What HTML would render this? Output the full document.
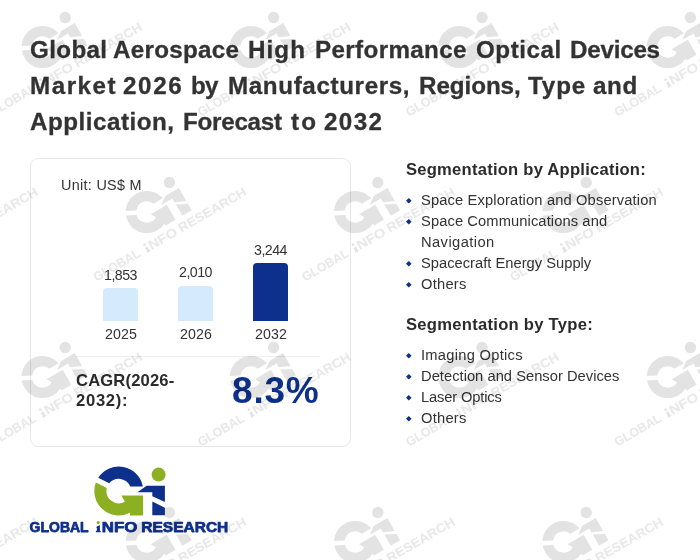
<!DOCTYPE html>
<html><head><meta charset="utf-8">
<style>
html,body{margin:0;padding:0;}
body{width:700px;height:560px;position:relative;overflow:hidden;background:#fff;font-family:"Liberation Sans",sans-serif;color:#333;}
.t{position:absolute;white-space:nowrap;}
.txt{position:absolute;left:0;top:0;width:700px;height:560px;will-change:transform;}
.card{position:absolute;left:30px;top:158px;width:319px;height:287px;border:1px solid #e5e7eb;border-radius:8.5px;}
.bar{position:absolute;width:35px;border-radius:4px 4px 0 0;}
.bul{position:absolute;left:406.2px;width:5.6px;height:5.6px;}
.wm{position:absolute;left:0;top:0;width:700px;height:560px;pointer-events:none;}
</style></head><body>

<div class="card"></div>
<div class="bar" style="left:103px;top:288.2px;height:33.2px;background:#d6eafe;"></div>
<div class="bar" style="left:178px;top:285.5px;height:35.9px;background:#d6eafe;"></div>
<div class="bar" style="left:253px;top:263.4px;height:58px;background:#0e308d;"></div>
<div style="position:absolute;left:76px;top:356px;width:244px;height:1px;background:#eceef0;"></div>
<svg class="bul" style="top:198.0px" viewBox="0 0 10 10"><path d="M5 0L10 5L5 10L0 5Z" fill="#0e308d"/></svg>
<svg class="bul" style="top:219.2px" viewBox="0 0 10 10"><path d="M5 0L10 5L5 10L0 5Z" fill="#0e308d"/></svg>
<svg class="bul" style="top:261.2px" viewBox="0 0 10 10"><path d="M5 0L10 5L5 10L0 5Z" fill="#0e308d"/></svg>
<svg class="bul" style="top:282.0px" viewBox="0 0 10 10"><path d="M5 0L10 5L5 10L0 5Z" fill="#0e308d"/></svg>
<svg class="bul" style="top:353.0px" viewBox="0 0 10 10"><path d="M5 0L10 5L5 10L0 5Z" fill="#0e308d"/></svg>
<svg class="bul" style="top:374.2px" viewBox="0 0 10 10"><path d="M5 0L10 5L5 10L0 5Z" fill="#0e308d"/></svg>
<svg class="bul" style="top:395.0px" viewBox="0 0 10 10"><path d="M5 0L10 5L5 10L0 5Z" fill="#0e308d"/></svg>
<svg class="bul" style="top:416.2px" viewBox="0 0 10 10"><path d="M5 0L10 5L5 10L0 5Z" fill="#0e308d"/></svg>
<div class="txt"><div class="t" style="left:30.00px;top:33.71px;font-size:24.2px;line-height:31px;font-weight:bold;color:#333;letter-spacing:0.360px;-webkit-text-stroke:0.3px #333">Global</div>
<div class="t" style="left:113.00px;top:33.71px;font-size:24.2px;line-height:31px;font-weight:bold;color:#333;letter-spacing:0.275px;-webkit-text-stroke:0.3px #333">Aerospace</div>
<div class="t" style="left:248.00px;top:33.71px;font-size:24.2px;line-height:31px;font-weight:bold;color:#333;letter-spacing:1.067px;-webkit-text-stroke:0.3px #333">High</div>
<div class="t" style="left:315.00px;top:33.71px;font-size:24.2px;line-height:31px;font-weight:bold;color:#333;letter-spacing:0.360px;-webkit-text-stroke:0.3px #333">Performance</div>
<div class="t" style="left:476.00px;top:33.71px;font-size:24.2px;line-height:31px;font-weight:bold;color:#333;letter-spacing:0.533px;-webkit-text-stroke:0.3px #333">Optical</div>
<div class="t" style="left:570.00px;top:33.71px;font-size:24.2px;line-height:31px;font-weight:bold;color:#333;letter-spacing:-0.233px;-webkit-text-stroke:0.3px #333">Devices</div>
<div class="t" style="left:30.00px;top:69.51px;font-size:24.2px;line-height:31px;font-weight:bold;color:#333;letter-spacing:1.520px;-webkit-text-stroke:0.3px #333">Market</div>
<div class="t" style="left:123.00px;top:69.51px;font-size:24.2px;line-height:31px;font-weight:bold;color:#333;letter-spacing:1.667px;-webkit-text-stroke:0.3px #333">2026</div>
<div class="t" style="left:191.00px;top:69.51px;font-size:24.2px;line-height:31px;font-weight:bold;color:#333;letter-spacing:-0.800px;-webkit-text-stroke:0.3px #333">by</div>
<div class="t" style="left:228.00px;top:69.51px;font-size:24.2px;line-height:31px;font-weight:bold;color:#333;letter-spacing:0.631px;-webkit-text-stroke:0.3px #333">Manufacturers,</div>
<div class="t" style="left:419.00px;top:69.51px;font-size:24.2px;line-height:31px;font-weight:bold;color:#333;letter-spacing:-0.057px;-webkit-text-stroke:0.3px #333">Regions,</div>
<div class="t" style="left:528.00px;top:69.51px;font-size:24.2px;line-height:31px;font-weight:bold;color:#333;letter-spacing:0.867px;-webkit-text-stroke:0.3px #333">Type</div>
<div class="t" style="left:593.00px;top:69.51px;font-size:24.2px;line-height:31px;font-weight:bold;color:#333;letter-spacing:0.600px;-webkit-text-stroke:0.3px #333">and</div>
<div class="t" style="left:30.00px;top:105.71px;font-size:24.2px;line-height:31px;font-weight:bold;color:#333;letter-spacing:0.509px;-webkit-text-stroke:0.3px #333">Application,</div>
<div class="t" style="left:183.00px;top:105.71px;font-size:24.2px;line-height:31px;font-weight:bold;color:#333;letter-spacing:-0.257px;-webkit-text-stroke:0.3px #333">Forecast</div>
<div class="t" style="left:291.00px;top:105.71px;font-size:24.2px;line-height:31px;font-weight:bold;color:#333;letter-spacing:2.200px;-webkit-text-stroke:0.3px #333">to</div>
<div class="t" style="left:324.00px;top:105.71px;font-size:24.2px;line-height:31px;font-weight:bold;color:#333;letter-spacing:1.400px;-webkit-text-stroke:0.3px #333">2032</div>
<div class="t" style="left:61.00px;top:176.11px;font-size:14.4px;line-height:19px;font-weight:normal;color:#333;letter-spacing:0.300px">Unit: US$ M</div>
<div class="t" style="left:104.00px;top:266.08px;font-size:14.2px;line-height:18px;font-weight:normal;color:#333;letter-spacing:-0.500px">1,853</div>
<div class="t" style="left:179.00px;top:263.08px;font-size:14.2px;line-height:18px;font-weight:normal;color:#333;letter-spacing:-0.500px">2,010</div>
<div class="t" style="left:254.00px;top:241.18px;font-size:14.2px;line-height:18px;font-weight:normal;color:#333;letter-spacing:-0.500px">3,244</div>
<div class="t" style="left:105.00px;top:325.48px;font-size:14.2px;line-height:18px;font-weight:normal;color:#333;letter-spacing:0.133px">2025</div>
<div class="t" style="left:180.00px;top:325.48px;font-size:14.2px;line-height:18px;font-weight:normal;color:#333;letter-spacing:0.133px">2026</div>
<div class="t" style="left:255.00px;top:325.48px;font-size:14.2px;line-height:18px;font-weight:normal;color:#333;letter-spacing:0.133px">2032</div>
<div class="t" style="left:76.00px;top:369.85px;font-size:16.6px;line-height:22px;font-weight:bold;color:#2b2b2b;letter-spacing:0.156px">CAGR(2026-</div>
<div class="t" style="left:76.00px;top:389.85px;font-size:16.6px;line-height:22px;font-weight:bold;color:#2b2b2b;letter-spacing:0.720px">2032):</div>
<div class="t" style="left:232.00px;top:366.58px;font-size:37px;line-height:48px;font-weight:bold;color:#0e308d;letter-spacing:0.800px">8.3%</div>
<div class="t" style="left:406.00px;top:158.75px;font-size:16.6px;line-height:22px;font-weight:bold;color:#2b2b2b;letter-spacing:0.230px">Segmentation by Application:</div>
<div class="t" style="left:421.00px;top:190.71px;font-size:14.7px;line-height:19px;font-weight:normal;color:#333;letter-spacing:0.144px">Space Exploration and Observation</div>
<div class="t" style="left:421.00px;top:211.91px;font-size:14.7px;line-height:19px;font-weight:normal;color:#333;letter-spacing:0.104px">Space Communications and</div>
<div class="t" style="left:421.00px;top:232.71px;font-size:14.7px;line-height:19px;font-weight:normal;color:#333;letter-spacing:0.422px">Navigation</div>
<div class="t" style="left:421.00px;top:253.91px;font-size:14.7px;line-height:19px;font-weight:normal;color:#333;letter-spacing:0.017px">Spacecraft Energy Supply</div>
<div class="t" style="left:421.00px;top:274.71px;font-size:14.7px;line-height:19px;font-weight:normal;color:#333;letter-spacing:0.240px">Others</div>
<div class="t" style="left:406.00px;top:313.75px;font-size:16.6px;line-height:22px;font-weight:bold;color:#2b2b2b;letter-spacing:0.270px">Segmentation by Type:</div>
<div class="t" style="left:421.00px;top:345.71px;font-size:14.7px;line-height:19px;font-weight:normal;color:#333;letter-spacing:0.277px">Imaging Optics</div>
<div class="t" style="left:421.00px;top:366.91px;font-size:14.7px;line-height:19px;font-weight:normal;color:#333;letter-spacing:0.030px">Detection and Sensor Devices</div>
<div class="t" style="left:421.00px;top:387.71px;font-size:14.7px;line-height:19px;font-weight:normal;color:#333;letter-spacing:-0.145px">Laser Optics</div>
<div class="t" style="left:421.00px;top:408.91px;font-size:14.7px;line-height:19px;font-weight:normal;color:#333;letter-spacing:0.240px">Others</div></div>
<svg style="position:absolute;left:0;top:0" width="700" height="560" viewBox="0 0 700 560">
<g transform="translate(118.8,491.05)">
<path fill="#0e308d" d="M-20.58,-13.19A24.45,24.45 0 0 1 24.04,-4.45L11.47,-4.45A12.3,12.3 0 0 0 -9.59,-7.70Z"/>
<path fill="#8db023" d="M-22.94,-8.47A24.45,24.45 0 0 0 11.2,21.73L11.2,24.45L24.3,24.45L24.3,4.35L2.6,4.35L6.1,10.68A12.3,12.3 0 0 1 -11.94,-2.97Z"/>
<path fill="#0e308d" d="M18.6,1.25L27.8,-5.35L46.1,-5.35L46.1,10.95L33.5,5.25L33.5,1.25Z"/>
<path fill="#0e308d" d="M33.5,10.35L46.1,16.65L46.1,24.3L33.5,24.3Z"/>
<circle fill="#8db023" cx="39.8" cy="-16.45" r="7"/>
<g>
<text x="-89.2" y="40.8" textLength="59.0" lengthAdjust="spacingAndGlyphs" fill="#0e308d" fill-opacity="1" stroke-opacity="1" style="font-family:'Liberation Sans',sans-serif;font-weight:bold;font-size:14.8px;stroke:#0e308d;stroke-width:0.75px;stroke-linejoin:round">GLOBAL</text>
<text x="-17.0" y="40.8" textLength="35.6" lengthAdjust="spacingAndGlyphs" fill="#0e308d" fill-opacity="1" stroke-opacity="1" style="font-family:'Liberation Sans',sans-serif;font-weight:bold;font-size:14.8px;stroke:#0e308d;stroke-width:0.75px;stroke-linejoin:round">NFO</text>
<text x="22.5" y="40.8" textLength="87.0" lengthAdjust="spacingAndGlyphs" fill="#0e308d" fill-opacity="1" stroke-opacity="1" style="font-family:'Liberation Sans',sans-serif;font-weight:bold;font-size:14.8px;stroke:#0e308d;stroke-width:0.75px;stroke-linejoin:round">RESEARCH</text>
<path fill="#0e308d" d="M-22.3,35.6L-19.2,34.2L-18.9,34.2L-18.9,39.6L-18.1,39.6L-18.1,41.2L-22.9,41.2L-22.9,39.6L-21.9,39.6L-21.9,36.9L-22.3,37Z"/>
<circle fill="#8db023" cx="-20.6" cy="31.5" r="1.6"/>
</g>
</g>
</svg>
<svg class="wm" width="700" height="560" viewBox="0 0 700 560" style="opacity:0.108">
<g transform="translate(-61.6,212.0) rotate(-30) scale(0.863)">
<path fill="#000" d="M-20.58,-13.19A24.45,24.45 0 0 1 24.04,-4.45L11.47,-4.45A12.3,12.3 0 0 0 -9.59,-7.70Z"/>
<path fill="#000" d="M-22.94,-8.47A24.45,24.45 0 0 0 11.2,21.73L11.2,24.45L24.3,24.45L24.3,4.35L2.6,4.35L6.1,10.68A12.3,12.3 0 0 1 -11.94,-2.97Z"/>
<path fill="#000" d="M18.6,1.25L27.8,-5.35L46.1,-5.35L46.1,11.85L33.5,6.15L33.5,1.25Z"/>
<path fill="#000" d="M33.5,9.45L46.1,15.75L46.1,24.3L33.5,24.3Z"/>
<circle fill="#000" cx="39.8" cy="-16.45" r="6.6"/>
<g transform="translate(10,0) scale(1.017,1) translate(-10,0)">
<text x="-89.2" y="40.8" textLength="59.0" lengthAdjust="spacingAndGlyphs" fill="#000" fill-opacity="0.8" stroke-opacity="0.8" style="font-family:'Liberation Sans',sans-serif;font-weight:bold;font-size:14.8px;stroke:#000;stroke-width:0.2px;stroke-linejoin:round">GLOBAL</text>
<text x="-17.0" y="40.8" textLength="35.6" lengthAdjust="spacingAndGlyphs" fill="#000" fill-opacity="0.8" stroke-opacity="0.8" style="font-family:'Liberation Sans',sans-serif;font-weight:bold;font-size:14.8px;stroke:#000;stroke-width:0.2px;stroke-linejoin:round">NFO</text>
<text x="22.5" y="40.8" textLength="87.0" lengthAdjust="spacingAndGlyphs" fill="#000" fill-opacity="0.8" stroke-opacity="0.8" style="font-family:'Liberation Sans',sans-serif;font-weight:bold;font-size:14.8px;stroke:#000;stroke-width:0.2px;stroke-linejoin:round">RESEARCH</text>
<path fill="#000" d="M-22.3,35.6L-19.2,34.2L-18.9,34.2L-18.9,39.6L-18.1,39.6L-18.1,41.2L-22.9,41.2L-22.9,39.6L-21.9,39.6L-21.9,36.9L-22.3,37Z"/>
<circle fill="#000" cx="-20.6" cy="31.5" r="1.6"/>
</g>
</g>
<g transform="translate(42.6,47.0) rotate(-30) scale(0.863)">
<path fill="#000" d="M-20.58,-13.19A24.45,24.45 0 0 1 24.04,-4.45L11.47,-4.45A12.3,12.3 0 0 0 -9.59,-7.70Z"/>
<path fill="#000" d="M-22.94,-8.47A24.45,24.45 0 0 0 11.2,21.73L11.2,24.45L24.3,24.45L24.3,4.35L2.6,4.35L6.1,10.68A12.3,12.3 0 0 1 -11.94,-2.97Z"/>
<path fill="#000" d="M18.6,1.25L27.8,-5.35L46.1,-5.35L46.1,11.85L33.5,6.15L33.5,1.25Z"/>
<path fill="#000" d="M33.5,9.45L46.1,15.75L46.1,24.3L33.5,24.3Z"/>
<circle fill="#000" cx="39.8" cy="-16.45" r="6.6"/>
<g transform="translate(10,0) scale(1.017,1) translate(-10,0)">
<text x="-89.2" y="40.8" textLength="59.0" lengthAdjust="spacingAndGlyphs" fill="#000" fill-opacity="0.8" stroke-opacity="0.8" style="font-family:'Liberation Sans',sans-serif;font-weight:bold;font-size:14.8px;stroke:#000;stroke-width:0.2px;stroke-linejoin:round">GLOBAL</text>
<text x="-17.0" y="40.8" textLength="35.6" lengthAdjust="spacingAndGlyphs" fill="#000" fill-opacity="0.8" stroke-opacity="0.8" style="font-family:'Liberation Sans',sans-serif;font-weight:bold;font-size:14.8px;stroke:#000;stroke-width:0.2px;stroke-linejoin:round">NFO</text>
<text x="22.5" y="40.8" textLength="87.0" lengthAdjust="spacingAndGlyphs" fill="#000" fill-opacity="0.8" stroke-opacity="0.8" style="font-family:'Liberation Sans',sans-serif;font-weight:bold;font-size:14.8px;stroke:#000;stroke-width:0.2px;stroke-linejoin:round">RESEARCH</text>
<path fill="#000" d="M-22.3,35.6L-19.2,34.2L-18.9,34.2L-18.9,39.6L-18.1,39.6L-18.1,41.2L-22.9,41.2L-22.9,39.6L-21.9,39.6L-21.9,36.9L-22.3,37Z"/>
<circle fill="#000" cx="-20.6" cy="31.5" r="1.6"/>
</g>
</g>
<g transform="translate(146.8,212.0) rotate(-30) scale(0.863)">
<path fill="#000" d="M-20.58,-13.19A24.45,24.45 0 0 1 24.04,-4.45L11.47,-4.45A12.3,12.3 0 0 0 -9.59,-7.70Z"/>
<path fill="#000" d="M-22.94,-8.47A24.45,24.45 0 0 0 11.2,21.73L11.2,24.45L24.3,24.45L24.3,4.35L2.6,4.35L6.1,10.68A12.3,12.3 0 0 1 -11.94,-2.97Z"/>
<path fill="#000" d="M18.6,1.25L27.8,-5.35L46.1,-5.35L46.1,11.85L33.5,6.15L33.5,1.25Z"/>
<path fill="#000" d="M33.5,9.45L46.1,15.75L46.1,24.3L33.5,24.3Z"/>
<circle fill="#000" cx="39.8" cy="-16.45" r="6.6"/>
<g transform="translate(10,0) scale(1.017,1) translate(-10,0)">
<text x="-89.2" y="40.8" textLength="59.0" lengthAdjust="spacingAndGlyphs" fill="#000" fill-opacity="0.8" stroke-opacity="0.8" style="font-family:'Liberation Sans',sans-serif;font-weight:bold;font-size:14.8px;stroke:#000;stroke-width:0.2px;stroke-linejoin:round">GLOBAL</text>
<text x="-17.0" y="40.8" textLength="35.6" lengthAdjust="spacingAndGlyphs" fill="#000" fill-opacity="0.8" stroke-opacity="0.8" style="font-family:'Liberation Sans',sans-serif;font-weight:bold;font-size:14.8px;stroke:#000;stroke-width:0.2px;stroke-linejoin:round">NFO</text>
<text x="22.5" y="40.8" textLength="87.0" lengthAdjust="spacingAndGlyphs" fill="#000" fill-opacity="0.8" stroke-opacity="0.8" style="font-family:'Liberation Sans',sans-serif;font-weight:bold;font-size:14.8px;stroke:#000;stroke-width:0.2px;stroke-linejoin:round">RESEARCH</text>
<path fill="#000" d="M-22.3,35.6L-19.2,34.2L-18.9,34.2L-18.9,39.6L-18.1,39.6L-18.1,41.2L-22.9,41.2L-22.9,39.6L-21.9,39.6L-21.9,36.9L-22.3,37Z"/>
<circle fill="#000" cx="-20.6" cy="31.5" r="1.6"/>
</g>
</g>
<g transform="translate(251.0,47.0) rotate(-30) scale(0.863)">
<path fill="#000" d="M-20.58,-13.19A24.45,24.45 0 0 1 24.04,-4.45L11.47,-4.45A12.3,12.3 0 0 0 -9.59,-7.70Z"/>
<path fill="#000" d="M-22.94,-8.47A24.45,24.45 0 0 0 11.2,21.73L11.2,24.45L24.3,24.45L24.3,4.35L2.6,4.35L6.1,10.68A12.3,12.3 0 0 1 -11.94,-2.97Z"/>
<path fill="#000" d="M18.6,1.25L27.8,-5.35L46.1,-5.35L46.1,11.85L33.5,6.15L33.5,1.25Z"/>
<path fill="#000" d="M33.5,9.45L46.1,15.75L46.1,24.3L33.5,24.3Z"/>
<circle fill="#000" cx="39.8" cy="-16.45" r="6.6"/>
<g transform="translate(10,0) scale(1.017,1) translate(-10,0)">
<text x="-89.2" y="40.8" textLength="59.0" lengthAdjust="spacingAndGlyphs" fill="#000" fill-opacity="0.8" stroke-opacity="0.8" style="font-family:'Liberation Sans',sans-serif;font-weight:bold;font-size:14.8px;stroke:#000;stroke-width:0.2px;stroke-linejoin:round">GLOBAL</text>
<text x="-17.0" y="40.8" textLength="35.6" lengthAdjust="spacingAndGlyphs" fill="#000" fill-opacity="0.8" stroke-opacity="0.8" style="font-family:'Liberation Sans',sans-serif;font-weight:bold;font-size:14.8px;stroke:#000;stroke-width:0.2px;stroke-linejoin:round">NFO</text>
<text x="22.5" y="40.8" textLength="87.0" lengthAdjust="spacingAndGlyphs" fill="#000" fill-opacity="0.8" stroke-opacity="0.8" style="font-family:'Liberation Sans',sans-serif;font-weight:bold;font-size:14.8px;stroke:#000;stroke-width:0.2px;stroke-linejoin:round">RESEARCH</text>
<path fill="#000" d="M-22.3,35.6L-19.2,34.2L-18.9,34.2L-18.9,39.6L-18.1,39.6L-18.1,41.2L-22.9,41.2L-22.9,39.6L-21.9,39.6L-21.9,36.9L-22.3,37Z"/>
<circle fill="#000" cx="-20.6" cy="31.5" r="1.6"/>
</g>
</g>
<g transform="translate(355.2,212.0) rotate(-30) scale(0.863)">
<path fill="#000" d="M-20.58,-13.19A24.45,24.45 0 0 1 24.04,-4.45L11.47,-4.45A12.3,12.3 0 0 0 -9.59,-7.70Z"/>
<path fill="#000" d="M-22.94,-8.47A24.45,24.45 0 0 0 11.2,21.73L11.2,24.45L24.3,24.45L24.3,4.35L2.6,4.35L6.1,10.68A12.3,12.3 0 0 1 -11.94,-2.97Z"/>
<path fill="#000" d="M18.6,1.25L27.8,-5.35L46.1,-5.35L46.1,11.85L33.5,6.15L33.5,1.25Z"/>
<path fill="#000" d="M33.5,9.45L46.1,15.75L46.1,24.3L33.5,24.3Z"/>
<circle fill="#000" cx="39.8" cy="-16.45" r="6.6"/>
<g transform="translate(10,0) scale(1.017,1) translate(-10,0)">
<text x="-89.2" y="40.8" textLength="59.0" lengthAdjust="spacingAndGlyphs" fill="#000" fill-opacity="0.8" stroke-opacity="0.8" style="font-family:'Liberation Sans',sans-serif;font-weight:bold;font-size:14.8px;stroke:#000;stroke-width:0.2px;stroke-linejoin:round">GLOBAL</text>
<text x="-17.0" y="40.8" textLength="35.6" lengthAdjust="spacingAndGlyphs" fill="#000" fill-opacity="0.8" stroke-opacity="0.8" style="font-family:'Liberation Sans',sans-serif;font-weight:bold;font-size:14.8px;stroke:#000;stroke-width:0.2px;stroke-linejoin:round">NFO</text>
<text x="22.5" y="40.8" textLength="87.0" lengthAdjust="spacingAndGlyphs" fill="#000" fill-opacity="0.8" stroke-opacity="0.8" style="font-family:'Liberation Sans',sans-serif;font-weight:bold;font-size:14.8px;stroke:#000;stroke-width:0.2px;stroke-linejoin:round">RESEARCH</text>
<path fill="#000" d="M-22.3,35.6L-19.2,34.2L-18.9,34.2L-18.9,39.6L-18.1,39.6L-18.1,41.2L-22.9,41.2L-22.9,39.6L-21.9,39.6L-21.9,36.9L-22.3,37Z"/>
<circle fill="#000" cx="-20.6" cy="31.5" r="1.6"/>
</g>
</g>
<g transform="translate(459.4,47.0) rotate(-30) scale(0.863)">
<path fill="#000" d="M-20.58,-13.19A24.45,24.45 0 0 1 24.04,-4.45L11.47,-4.45A12.3,12.3 0 0 0 -9.59,-7.70Z"/>
<path fill="#000" d="M-22.94,-8.47A24.45,24.45 0 0 0 11.2,21.73L11.2,24.45L24.3,24.45L24.3,4.35L2.6,4.35L6.1,10.68A12.3,12.3 0 0 1 -11.94,-2.97Z"/>
<path fill="#000" d="M18.6,1.25L27.8,-5.35L46.1,-5.35L46.1,11.85L33.5,6.15L33.5,1.25Z"/>
<path fill="#000" d="M33.5,9.45L46.1,15.75L46.1,24.3L33.5,24.3Z"/>
<circle fill="#000" cx="39.8" cy="-16.45" r="6.6"/>
<g transform="translate(10,0) scale(1.017,1) translate(-10,0)">
<text x="-89.2" y="40.8" textLength="59.0" lengthAdjust="spacingAndGlyphs" fill="#000" fill-opacity="0.8" stroke-opacity="0.8" style="font-family:'Liberation Sans',sans-serif;font-weight:bold;font-size:14.8px;stroke:#000;stroke-width:0.2px;stroke-linejoin:round">GLOBAL</text>
<text x="-17.0" y="40.8" textLength="35.6" lengthAdjust="spacingAndGlyphs" fill="#000" fill-opacity="0.8" stroke-opacity="0.8" style="font-family:'Liberation Sans',sans-serif;font-weight:bold;font-size:14.8px;stroke:#000;stroke-width:0.2px;stroke-linejoin:round">NFO</text>
<text x="22.5" y="40.8" textLength="87.0" lengthAdjust="spacingAndGlyphs" fill="#000" fill-opacity="0.8" stroke-opacity="0.8" style="font-family:'Liberation Sans',sans-serif;font-weight:bold;font-size:14.8px;stroke:#000;stroke-width:0.2px;stroke-linejoin:round">RESEARCH</text>
<path fill="#000" d="M-22.3,35.6L-19.2,34.2L-18.9,34.2L-18.9,39.6L-18.1,39.6L-18.1,41.2L-22.9,41.2L-22.9,39.6L-21.9,39.6L-21.9,36.9L-22.3,37Z"/>
<circle fill="#000" cx="-20.6" cy="31.5" r="1.6"/>
</g>
</g>
<g transform="translate(563.6,212.0) rotate(-30) scale(0.863)">
<path fill="#000" d="M-20.58,-13.19A24.45,24.45 0 0 1 24.04,-4.45L11.47,-4.45A12.3,12.3 0 0 0 -9.59,-7.70Z"/>
<path fill="#000" d="M-22.94,-8.47A24.45,24.45 0 0 0 11.2,21.73L11.2,24.45L24.3,24.45L24.3,4.35L2.6,4.35L6.1,10.68A12.3,12.3 0 0 1 -11.94,-2.97Z"/>
<path fill="#000" d="M18.6,1.25L27.8,-5.35L46.1,-5.35L46.1,11.85L33.5,6.15L33.5,1.25Z"/>
<path fill="#000" d="M33.5,9.45L46.1,15.75L46.1,24.3L33.5,24.3Z"/>
<circle fill="#000" cx="39.8" cy="-16.45" r="6.6"/>
<g transform="translate(10,0) scale(1.017,1) translate(-10,0)">
<text x="-89.2" y="40.8" textLength="59.0" lengthAdjust="spacingAndGlyphs" fill="#000" fill-opacity="0.8" stroke-opacity="0.8" style="font-family:'Liberation Sans',sans-serif;font-weight:bold;font-size:14.8px;stroke:#000;stroke-width:0.2px;stroke-linejoin:round">GLOBAL</text>
<text x="-17.0" y="40.8" textLength="35.6" lengthAdjust="spacingAndGlyphs" fill="#000" fill-opacity="0.8" stroke-opacity="0.8" style="font-family:'Liberation Sans',sans-serif;font-weight:bold;font-size:14.8px;stroke:#000;stroke-width:0.2px;stroke-linejoin:round">NFO</text>
<text x="22.5" y="40.8" textLength="87.0" lengthAdjust="spacingAndGlyphs" fill="#000" fill-opacity="0.8" stroke-opacity="0.8" style="font-family:'Liberation Sans',sans-serif;font-weight:bold;font-size:14.8px;stroke:#000;stroke-width:0.2px;stroke-linejoin:round">RESEARCH</text>
<path fill="#000" d="M-22.3,35.6L-19.2,34.2L-18.9,34.2L-18.9,39.6L-18.1,39.6L-18.1,41.2L-22.9,41.2L-22.9,39.6L-21.9,39.6L-21.9,36.9L-22.3,37Z"/>
<circle fill="#000" cx="-20.6" cy="31.5" r="1.6"/>
</g>
</g>
<g transform="translate(667.8,47.0) rotate(-30) scale(0.863)">
<path fill="#000" d="M-20.58,-13.19A24.45,24.45 0 0 1 24.04,-4.45L11.47,-4.45A12.3,12.3 0 0 0 -9.59,-7.70Z"/>
<path fill="#000" d="M-22.94,-8.47A24.45,24.45 0 0 0 11.2,21.73L11.2,24.45L24.3,24.45L24.3,4.35L2.6,4.35L6.1,10.68A12.3,12.3 0 0 1 -11.94,-2.97Z"/>
<path fill="#000" d="M18.6,1.25L27.8,-5.35L46.1,-5.35L46.1,11.85L33.5,6.15L33.5,1.25Z"/>
<path fill="#000" d="M33.5,9.45L46.1,15.75L46.1,24.3L33.5,24.3Z"/>
<circle fill="#000" cx="39.8" cy="-16.45" r="6.6"/>
<g transform="translate(10,0) scale(1.017,1) translate(-10,0)">
<text x="-89.2" y="40.8" textLength="59.0" lengthAdjust="spacingAndGlyphs" fill="#000" fill-opacity="0.8" stroke-opacity="0.8" style="font-family:'Liberation Sans',sans-serif;font-weight:bold;font-size:14.8px;stroke:#000;stroke-width:0.2px;stroke-linejoin:round">GLOBAL</text>
<text x="-17.0" y="40.8" textLength="35.6" lengthAdjust="spacingAndGlyphs" fill="#000" fill-opacity="0.8" stroke-opacity="0.8" style="font-family:'Liberation Sans',sans-serif;font-weight:bold;font-size:14.8px;stroke:#000;stroke-width:0.2px;stroke-linejoin:round">NFO</text>
<text x="22.5" y="40.8" textLength="87.0" lengthAdjust="spacingAndGlyphs" fill="#000" fill-opacity="0.8" stroke-opacity="0.8" style="font-family:'Liberation Sans',sans-serif;font-weight:bold;font-size:14.8px;stroke:#000;stroke-width:0.2px;stroke-linejoin:round">RESEARCH</text>
<path fill="#000" d="M-22.3,35.6L-19.2,34.2L-18.9,34.2L-18.9,39.6L-18.1,39.6L-18.1,41.2L-22.9,41.2L-22.9,39.6L-21.9,39.6L-21.9,36.9L-22.3,37Z"/>
<circle fill="#000" cx="-20.6" cy="31.5" r="1.6"/>
</g>
</g>
<g transform="translate(772.0,212.0) rotate(-30) scale(0.863)">
<path fill="#000" d="M-20.58,-13.19A24.45,24.45 0 0 1 24.04,-4.45L11.47,-4.45A12.3,12.3 0 0 0 -9.59,-7.70Z"/>
<path fill="#000" d="M-22.94,-8.47A24.45,24.45 0 0 0 11.2,21.73L11.2,24.45L24.3,24.45L24.3,4.35L2.6,4.35L6.1,10.68A12.3,12.3 0 0 1 -11.94,-2.97Z"/>
<path fill="#000" d="M18.6,1.25L27.8,-5.35L46.1,-5.35L46.1,11.85L33.5,6.15L33.5,1.25Z"/>
<path fill="#000" d="M33.5,9.45L46.1,15.75L46.1,24.3L33.5,24.3Z"/>
<circle fill="#000" cx="39.8" cy="-16.45" r="6.6"/>
<g transform="translate(10,0) scale(1.017,1) translate(-10,0)">
<text x="-89.2" y="40.8" textLength="59.0" lengthAdjust="spacingAndGlyphs" fill="#000" fill-opacity="0.8" stroke-opacity="0.8" style="font-family:'Liberation Sans',sans-serif;font-weight:bold;font-size:14.8px;stroke:#000;stroke-width:0.2px;stroke-linejoin:round">GLOBAL</text>
<text x="-17.0" y="40.8" textLength="35.6" lengthAdjust="spacingAndGlyphs" fill="#000" fill-opacity="0.8" stroke-opacity="0.8" style="font-family:'Liberation Sans',sans-serif;font-weight:bold;font-size:14.8px;stroke:#000;stroke-width:0.2px;stroke-linejoin:round">NFO</text>
<text x="22.5" y="40.8" textLength="87.0" lengthAdjust="spacingAndGlyphs" fill="#000" fill-opacity="0.8" stroke-opacity="0.8" style="font-family:'Liberation Sans',sans-serif;font-weight:bold;font-size:14.8px;stroke:#000;stroke-width:0.2px;stroke-linejoin:round">RESEARCH</text>
<path fill="#000" d="M-22.3,35.6L-19.2,34.2L-18.9,34.2L-18.9,39.6L-18.1,39.6L-18.1,41.2L-22.9,41.2L-22.9,39.6L-21.9,39.6L-21.9,36.9L-22.3,37Z"/>
<circle fill="#000" cx="-20.6" cy="31.5" r="1.6"/>
</g>
</g>
<g transform="translate(-61.6,542.0) rotate(-30) scale(0.863)">
<path fill="#000" d="M-20.58,-13.19A24.45,24.45 0 0 1 24.04,-4.45L11.47,-4.45A12.3,12.3 0 0 0 -9.59,-7.70Z"/>
<path fill="#000" d="M-22.94,-8.47A24.45,24.45 0 0 0 11.2,21.73L11.2,24.45L24.3,24.45L24.3,4.35L2.6,4.35L6.1,10.68A12.3,12.3 0 0 1 -11.94,-2.97Z"/>
<path fill="#000" d="M18.6,1.25L27.8,-5.35L46.1,-5.35L46.1,11.85L33.5,6.15L33.5,1.25Z"/>
<path fill="#000" d="M33.5,9.45L46.1,15.75L46.1,24.3L33.5,24.3Z"/>
<circle fill="#000" cx="39.8" cy="-16.45" r="6.6"/>
<g transform="translate(10,0) scale(1.017,1) translate(-10,0)">
<text x="-89.2" y="40.8" textLength="59.0" lengthAdjust="spacingAndGlyphs" fill="#000" fill-opacity="0.8" stroke-opacity="0.8" style="font-family:'Liberation Sans',sans-serif;font-weight:bold;font-size:14.8px;stroke:#000;stroke-width:0.2px;stroke-linejoin:round">GLOBAL</text>
<text x="-17.0" y="40.8" textLength="35.6" lengthAdjust="spacingAndGlyphs" fill="#000" fill-opacity="0.8" stroke-opacity="0.8" style="font-family:'Liberation Sans',sans-serif;font-weight:bold;font-size:14.8px;stroke:#000;stroke-width:0.2px;stroke-linejoin:round">NFO</text>
<text x="22.5" y="40.8" textLength="87.0" lengthAdjust="spacingAndGlyphs" fill="#000" fill-opacity="0.8" stroke-opacity="0.8" style="font-family:'Liberation Sans',sans-serif;font-weight:bold;font-size:14.8px;stroke:#000;stroke-width:0.2px;stroke-linejoin:round">RESEARCH</text>
<path fill="#000" d="M-22.3,35.6L-19.2,34.2L-18.9,34.2L-18.9,39.6L-18.1,39.6L-18.1,41.2L-22.9,41.2L-22.9,39.6L-21.9,39.6L-21.9,36.9L-22.3,37Z"/>
<circle fill="#000" cx="-20.6" cy="31.5" r="1.6"/>
</g>
</g>
<g transform="translate(42.6,377.0) rotate(-30) scale(0.863)">
<path fill="#000" d="M-20.58,-13.19A24.45,24.45 0 0 1 24.04,-4.45L11.47,-4.45A12.3,12.3 0 0 0 -9.59,-7.70Z"/>
<path fill="#000" d="M-22.94,-8.47A24.45,24.45 0 0 0 11.2,21.73L11.2,24.45L24.3,24.45L24.3,4.35L2.6,4.35L6.1,10.68A12.3,12.3 0 0 1 -11.94,-2.97Z"/>
<path fill="#000" d="M18.6,1.25L27.8,-5.35L46.1,-5.35L46.1,11.85L33.5,6.15L33.5,1.25Z"/>
<path fill="#000" d="M33.5,9.45L46.1,15.75L46.1,24.3L33.5,24.3Z"/>
<circle fill="#000" cx="39.8" cy="-16.45" r="6.6"/>
<g transform="translate(10,0) scale(1.017,1) translate(-10,0)">
<text x="-89.2" y="40.8" textLength="59.0" lengthAdjust="spacingAndGlyphs" fill="#000" fill-opacity="0.8" stroke-opacity="0.8" style="font-family:'Liberation Sans',sans-serif;font-weight:bold;font-size:14.8px;stroke:#000;stroke-width:0.2px;stroke-linejoin:round">GLOBAL</text>
<text x="-17.0" y="40.8" textLength="35.6" lengthAdjust="spacingAndGlyphs" fill="#000" fill-opacity="0.8" stroke-opacity="0.8" style="font-family:'Liberation Sans',sans-serif;font-weight:bold;font-size:14.8px;stroke:#000;stroke-width:0.2px;stroke-linejoin:round">NFO</text>
<text x="22.5" y="40.8" textLength="87.0" lengthAdjust="spacingAndGlyphs" fill="#000" fill-opacity="0.8" stroke-opacity="0.8" style="font-family:'Liberation Sans',sans-serif;font-weight:bold;font-size:14.8px;stroke:#000;stroke-width:0.2px;stroke-linejoin:round">RESEARCH</text>
<path fill="#000" d="M-22.3,35.6L-19.2,34.2L-18.9,34.2L-18.9,39.6L-18.1,39.6L-18.1,41.2L-22.9,41.2L-22.9,39.6L-21.9,39.6L-21.9,36.9L-22.3,37Z"/>
<circle fill="#000" cx="-20.6" cy="31.5" r="1.6"/>
</g>
</g>
<g transform="translate(146.8,542.0) rotate(-30) scale(0.863)">
<path fill="#000" d="M-20.58,-13.19A24.45,24.45 0 0 1 24.04,-4.45L11.47,-4.45A12.3,12.3 0 0 0 -9.59,-7.70Z"/>
<path fill="#000" d="M-22.94,-8.47A24.45,24.45 0 0 0 11.2,21.73L11.2,24.45L24.3,24.45L24.3,4.35L2.6,4.35L6.1,10.68A12.3,12.3 0 0 1 -11.94,-2.97Z"/>
<path fill="#000" d="M18.6,1.25L27.8,-5.35L46.1,-5.35L46.1,11.85L33.5,6.15L33.5,1.25Z"/>
<path fill="#000" d="M33.5,9.45L46.1,15.75L46.1,24.3L33.5,24.3Z"/>
<circle fill="#000" cx="39.8" cy="-16.45" r="6.6"/>
<g transform="translate(10,0) scale(1.017,1) translate(-10,0)">
<text x="-89.2" y="40.8" textLength="59.0" lengthAdjust="spacingAndGlyphs" fill="#000" fill-opacity="0.8" stroke-opacity="0.8" style="font-family:'Liberation Sans',sans-serif;font-weight:bold;font-size:14.8px;stroke:#000;stroke-width:0.2px;stroke-linejoin:round">GLOBAL</text>
<text x="-17.0" y="40.8" textLength="35.6" lengthAdjust="spacingAndGlyphs" fill="#000" fill-opacity="0.8" stroke-opacity="0.8" style="font-family:'Liberation Sans',sans-serif;font-weight:bold;font-size:14.8px;stroke:#000;stroke-width:0.2px;stroke-linejoin:round">NFO</text>
<text x="22.5" y="40.8" textLength="87.0" lengthAdjust="spacingAndGlyphs" fill="#000" fill-opacity="0.8" stroke-opacity="0.8" style="font-family:'Liberation Sans',sans-serif;font-weight:bold;font-size:14.8px;stroke:#000;stroke-width:0.2px;stroke-linejoin:round">RESEARCH</text>
<path fill="#000" d="M-22.3,35.6L-19.2,34.2L-18.9,34.2L-18.9,39.6L-18.1,39.6L-18.1,41.2L-22.9,41.2L-22.9,39.6L-21.9,39.6L-21.9,36.9L-22.3,37Z"/>
<circle fill="#000" cx="-20.6" cy="31.5" r="1.6"/>
</g>
</g>
<g transform="translate(251.0,377.0) rotate(-30) scale(0.863)">
<path fill="#000" d="M-20.58,-13.19A24.45,24.45 0 0 1 24.04,-4.45L11.47,-4.45A12.3,12.3 0 0 0 -9.59,-7.70Z"/>
<path fill="#000" d="M-22.94,-8.47A24.45,24.45 0 0 0 11.2,21.73L11.2,24.45L24.3,24.45L24.3,4.35L2.6,4.35L6.1,10.68A12.3,12.3 0 0 1 -11.94,-2.97Z"/>
<path fill="#000" d="M18.6,1.25L27.8,-5.35L46.1,-5.35L46.1,11.85L33.5,6.15L33.5,1.25Z"/>
<path fill="#000" d="M33.5,9.45L46.1,15.75L46.1,24.3L33.5,24.3Z"/>
<circle fill="#000" cx="39.8" cy="-16.45" r="6.6"/>
<g transform="translate(10,0) scale(1.017,1) translate(-10,0)">
<text x="-89.2" y="40.8" textLength="59.0" lengthAdjust="spacingAndGlyphs" fill="#000" fill-opacity="0.8" stroke-opacity="0.8" style="font-family:'Liberation Sans',sans-serif;font-weight:bold;font-size:14.8px;stroke:#000;stroke-width:0.2px;stroke-linejoin:round">GLOBAL</text>
<text x="-17.0" y="40.8" textLength="35.6" lengthAdjust="spacingAndGlyphs" fill="#000" fill-opacity="0.8" stroke-opacity="0.8" style="font-family:'Liberation Sans',sans-serif;font-weight:bold;font-size:14.8px;stroke:#000;stroke-width:0.2px;stroke-linejoin:round">NFO</text>
<text x="22.5" y="40.8" textLength="87.0" lengthAdjust="spacingAndGlyphs" fill="#000" fill-opacity="0.8" stroke-opacity="0.8" style="font-family:'Liberation Sans',sans-serif;font-weight:bold;font-size:14.8px;stroke:#000;stroke-width:0.2px;stroke-linejoin:round">RESEARCH</text>
<path fill="#000" d="M-22.3,35.6L-19.2,34.2L-18.9,34.2L-18.9,39.6L-18.1,39.6L-18.1,41.2L-22.9,41.2L-22.9,39.6L-21.9,39.6L-21.9,36.9L-22.3,37Z"/>
<circle fill="#000" cx="-20.6" cy="31.5" r="1.6"/>
</g>
</g>
<g transform="translate(355.2,542.0) rotate(-30) scale(0.863)">
<path fill="#000" d="M-20.58,-13.19A24.45,24.45 0 0 1 24.04,-4.45L11.47,-4.45A12.3,12.3 0 0 0 -9.59,-7.70Z"/>
<path fill="#000" d="M-22.94,-8.47A24.45,24.45 0 0 0 11.2,21.73L11.2,24.45L24.3,24.45L24.3,4.35L2.6,4.35L6.1,10.68A12.3,12.3 0 0 1 -11.94,-2.97Z"/>
<path fill="#000" d="M18.6,1.25L27.8,-5.35L46.1,-5.35L46.1,11.85L33.5,6.15L33.5,1.25Z"/>
<path fill="#000" d="M33.5,9.45L46.1,15.75L46.1,24.3L33.5,24.3Z"/>
<circle fill="#000" cx="39.8" cy="-16.45" r="6.6"/>
<g transform="translate(10,0) scale(1.017,1) translate(-10,0)">
<text x="-89.2" y="40.8" textLength="59.0" lengthAdjust="spacingAndGlyphs" fill="#000" fill-opacity="0.8" stroke-opacity="0.8" style="font-family:'Liberation Sans',sans-serif;font-weight:bold;font-size:14.8px;stroke:#000;stroke-width:0.2px;stroke-linejoin:round">GLOBAL</text>
<text x="-17.0" y="40.8" textLength="35.6" lengthAdjust="spacingAndGlyphs" fill="#000" fill-opacity="0.8" stroke-opacity="0.8" style="font-family:'Liberation Sans',sans-serif;font-weight:bold;font-size:14.8px;stroke:#000;stroke-width:0.2px;stroke-linejoin:round">NFO</text>
<text x="22.5" y="40.8" textLength="87.0" lengthAdjust="spacingAndGlyphs" fill="#000" fill-opacity="0.8" stroke-opacity="0.8" style="font-family:'Liberation Sans',sans-serif;font-weight:bold;font-size:14.8px;stroke:#000;stroke-width:0.2px;stroke-linejoin:round">RESEARCH</text>
<path fill="#000" d="M-22.3,35.6L-19.2,34.2L-18.9,34.2L-18.9,39.6L-18.1,39.6L-18.1,41.2L-22.9,41.2L-22.9,39.6L-21.9,39.6L-21.9,36.9L-22.3,37Z"/>
<circle fill="#000" cx="-20.6" cy="31.5" r="1.6"/>
</g>
</g>
<g transform="translate(459.4,377.0) rotate(-30) scale(0.863)">
<path fill="#000" d="M-20.58,-13.19A24.45,24.45 0 0 1 24.04,-4.45L11.47,-4.45A12.3,12.3 0 0 0 -9.59,-7.70Z"/>
<path fill="#000" d="M-22.94,-8.47A24.45,24.45 0 0 0 11.2,21.73L11.2,24.45L24.3,24.45L24.3,4.35L2.6,4.35L6.1,10.68A12.3,12.3 0 0 1 -11.94,-2.97Z"/>
<path fill="#000" d="M18.6,1.25L27.8,-5.35L46.1,-5.35L46.1,11.85L33.5,6.15L33.5,1.25Z"/>
<path fill="#000" d="M33.5,9.45L46.1,15.75L46.1,24.3L33.5,24.3Z"/>
<circle fill="#000" cx="39.8" cy="-16.45" r="6.6"/>
<g transform="translate(10,0) scale(1.017,1) translate(-10,0)">
<text x="-89.2" y="40.8" textLength="59.0" lengthAdjust="spacingAndGlyphs" fill="#000" fill-opacity="0.8" stroke-opacity="0.8" style="font-family:'Liberation Sans',sans-serif;font-weight:bold;font-size:14.8px;stroke:#000;stroke-width:0.2px;stroke-linejoin:round">GLOBAL</text>
<text x="-17.0" y="40.8" textLength="35.6" lengthAdjust="spacingAndGlyphs" fill="#000" fill-opacity="0.8" stroke-opacity="0.8" style="font-family:'Liberation Sans',sans-serif;font-weight:bold;font-size:14.8px;stroke:#000;stroke-width:0.2px;stroke-linejoin:round">NFO</text>
<text x="22.5" y="40.8" textLength="87.0" lengthAdjust="spacingAndGlyphs" fill="#000" fill-opacity="0.8" stroke-opacity="0.8" style="font-family:'Liberation Sans',sans-serif;font-weight:bold;font-size:14.8px;stroke:#000;stroke-width:0.2px;stroke-linejoin:round">RESEARCH</text>
<path fill="#000" d="M-22.3,35.6L-19.2,34.2L-18.9,34.2L-18.9,39.6L-18.1,39.6L-18.1,41.2L-22.9,41.2L-22.9,39.6L-21.9,39.6L-21.9,36.9L-22.3,37Z"/>
<circle fill="#000" cx="-20.6" cy="31.5" r="1.6"/>
</g>
</g>
<g transform="translate(563.6,542.0) rotate(-30) scale(0.863)">
<path fill="#000" d="M-20.58,-13.19A24.45,24.45 0 0 1 24.04,-4.45L11.47,-4.45A12.3,12.3 0 0 0 -9.59,-7.70Z"/>
<path fill="#000" d="M-22.94,-8.47A24.45,24.45 0 0 0 11.2,21.73L11.2,24.45L24.3,24.45L24.3,4.35L2.6,4.35L6.1,10.68A12.3,12.3 0 0 1 -11.94,-2.97Z"/>
<path fill="#000" d="M18.6,1.25L27.8,-5.35L46.1,-5.35L46.1,11.85L33.5,6.15L33.5,1.25Z"/>
<path fill="#000" d="M33.5,9.45L46.1,15.75L46.1,24.3L33.5,24.3Z"/>
<circle fill="#000" cx="39.8" cy="-16.45" r="6.6"/>
<g transform="translate(10,0) scale(1.017,1) translate(-10,0)">
<text x="-89.2" y="40.8" textLength="59.0" lengthAdjust="spacingAndGlyphs" fill="#000" fill-opacity="0.8" stroke-opacity="0.8" style="font-family:'Liberation Sans',sans-serif;font-weight:bold;font-size:14.8px;stroke:#000;stroke-width:0.2px;stroke-linejoin:round">GLOBAL</text>
<text x="-17.0" y="40.8" textLength="35.6" lengthAdjust="spacingAndGlyphs" fill="#000" fill-opacity="0.8" stroke-opacity="0.8" style="font-family:'Liberation Sans',sans-serif;font-weight:bold;font-size:14.8px;stroke:#000;stroke-width:0.2px;stroke-linejoin:round">NFO</text>
<text x="22.5" y="40.8" textLength="87.0" lengthAdjust="spacingAndGlyphs" fill="#000" fill-opacity="0.8" stroke-opacity="0.8" style="font-family:'Liberation Sans',sans-serif;font-weight:bold;font-size:14.8px;stroke:#000;stroke-width:0.2px;stroke-linejoin:round">RESEARCH</text>
<path fill="#000" d="M-22.3,35.6L-19.2,34.2L-18.9,34.2L-18.9,39.6L-18.1,39.6L-18.1,41.2L-22.9,41.2L-22.9,39.6L-21.9,39.6L-21.9,36.9L-22.3,37Z"/>
<circle fill="#000" cx="-20.6" cy="31.5" r="1.6"/>
</g>
</g>
<g transform="translate(667.8,377.0) rotate(-30) scale(0.863)">
<path fill="#000" d="M-20.58,-13.19A24.45,24.45 0 0 1 24.04,-4.45L11.47,-4.45A12.3,12.3 0 0 0 -9.59,-7.70Z"/>
<path fill="#000" d="M-22.94,-8.47A24.45,24.45 0 0 0 11.2,21.73L11.2,24.45L24.3,24.45L24.3,4.35L2.6,4.35L6.1,10.68A12.3,12.3 0 0 1 -11.94,-2.97Z"/>
<path fill="#000" d="M18.6,1.25L27.8,-5.35L46.1,-5.35L46.1,11.85L33.5,6.15L33.5,1.25Z"/>
<path fill="#000" d="M33.5,9.45L46.1,15.75L46.1,24.3L33.5,24.3Z"/>
<circle fill="#000" cx="39.8" cy="-16.45" r="6.6"/>
<g transform="translate(10,0) scale(1.017,1) translate(-10,0)">
<text x="-89.2" y="40.8" textLength="59.0" lengthAdjust="spacingAndGlyphs" fill="#000" fill-opacity="0.8" stroke-opacity="0.8" style="font-family:'Liberation Sans',sans-serif;font-weight:bold;font-size:14.8px;stroke:#000;stroke-width:0.2px;stroke-linejoin:round">GLOBAL</text>
<text x="-17.0" y="40.8" textLength="35.6" lengthAdjust="spacingAndGlyphs" fill="#000" fill-opacity="0.8" stroke-opacity="0.8" style="font-family:'Liberation Sans',sans-serif;font-weight:bold;font-size:14.8px;stroke:#000;stroke-width:0.2px;stroke-linejoin:round">NFO</text>
<text x="22.5" y="40.8" textLength="87.0" lengthAdjust="spacingAndGlyphs" fill="#000" fill-opacity="0.8" stroke-opacity="0.8" style="font-family:'Liberation Sans',sans-serif;font-weight:bold;font-size:14.8px;stroke:#000;stroke-width:0.2px;stroke-linejoin:round">RESEARCH</text>
<path fill="#000" d="M-22.3,35.6L-19.2,34.2L-18.9,34.2L-18.9,39.6L-18.1,39.6L-18.1,41.2L-22.9,41.2L-22.9,39.6L-21.9,39.6L-21.9,36.9L-22.3,37Z"/>
<circle fill="#000" cx="-20.6" cy="31.5" r="1.6"/>
</g>
</g>
<g transform="translate(772.0,542.0) rotate(-30) scale(0.863)">
<path fill="#000" d="M-20.58,-13.19A24.45,24.45 0 0 1 24.04,-4.45L11.47,-4.45A12.3,12.3 0 0 0 -9.59,-7.70Z"/>
<path fill="#000" d="M-22.94,-8.47A24.45,24.45 0 0 0 11.2,21.73L11.2,24.45L24.3,24.45L24.3,4.35L2.6,4.35L6.1,10.68A12.3,12.3 0 0 1 -11.94,-2.97Z"/>
<path fill="#000" d="M18.6,1.25L27.8,-5.35L46.1,-5.35L46.1,11.85L33.5,6.15L33.5,1.25Z"/>
<path fill="#000" d="M33.5,9.45L46.1,15.75L46.1,24.3L33.5,24.3Z"/>
<circle fill="#000" cx="39.8" cy="-16.45" r="6.6"/>
<g transform="translate(10,0) scale(1.017,1) translate(-10,0)">
<text x="-89.2" y="40.8" textLength="59.0" lengthAdjust="spacingAndGlyphs" fill="#000" fill-opacity="0.8" stroke-opacity="0.8" style="font-family:'Liberation Sans',sans-serif;font-weight:bold;font-size:14.8px;stroke:#000;stroke-width:0.2px;stroke-linejoin:round">GLOBAL</text>
<text x="-17.0" y="40.8" textLength="35.6" lengthAdjust="spacingAndGlyphs" fill="#000" fill-opacity="0.8" stroke-opacity="0.8" style="font-family:'Liberation Sans',sans-serif;font-weight:bold;font-size:14.8px;stroke:#000;stroke-width:0.2px;stroke-linejoin:round">NFO</text>
<text x="22.5" y="40.8" textLength="87.0" lengthAdjust="spacingAndGlyphs" fill="#000" fill-opacity="0.8" stroke-opacity="0.8" style="font-family:'Liberation Sans',sans-serif;font-weight:bold;font-size:14.8px;stroke:#000;stroke-width:0.2px;stroke-linejoin:round">RESEARCH</text>
<path fill="#000" d="M-22.3,35.6L-19.2,34.2L-18.9,34.2L-18.9,39.6L-18.1,39.6L-18.1,41.2L-22.9,41.2L-22.9,39.6L-21.9,39.6L-21.9,36.9L-22.3,37Z"/>
<circle fill="#000" cx="-20.6" cy="31.5" r="1.6"/>
</g>
</g>
</svg>
</body></html>
